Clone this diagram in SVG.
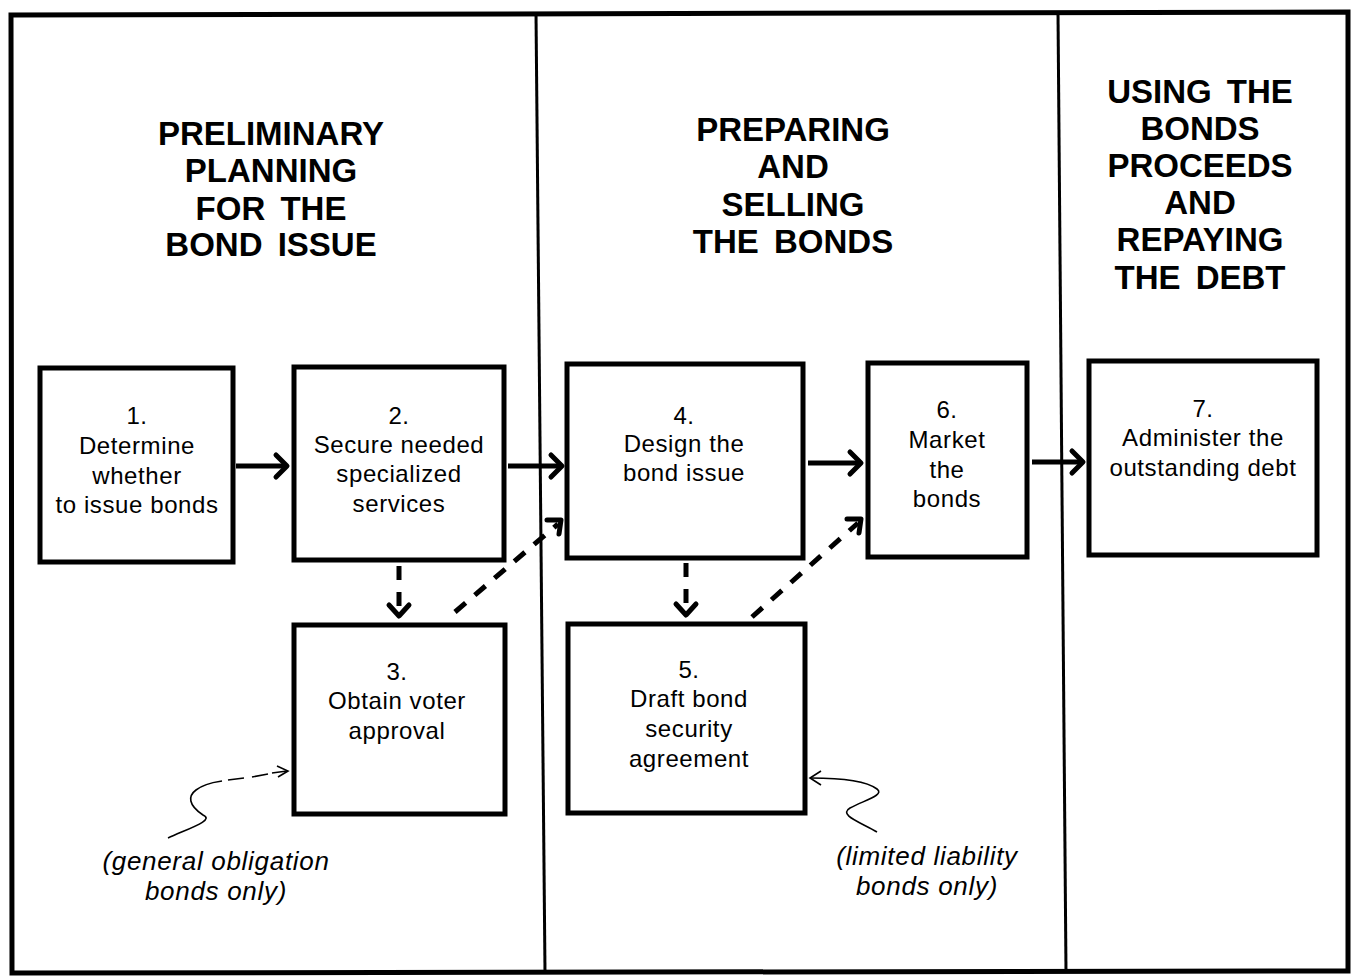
<svg xmlns="http://www.w3.org/2000/svg" width="1354" height="977" viewBox="0 0 1354 977">
<style>
.box{fill:#fff;stroke:#000;stroke-width:5}
.hd{font-family:"Liberation Sans",Arial,sans-serif;font-weight:bold;font-size:33px;text-anchor:middle;fill:#000;word-spacing:6px}
.tx{font-family:"Liberation Sans",Arial,sans-serif;font-size:24px;letter-spacing:0.6px;text-anchor:middle;fill:#000}
.it{font-family:"Liberation Sans",Arial,sans-serif;font-style:italic;font-size:26px;letter-spacing:0.7px;text-anchor:middle;fill:#000}
.ln{fill:none;stroke:#000;stroke-width:5}
.dl{fill:none;stroke:#000;stroke-width:5;stroke-dasharray:14 12}
.hd2{fill:none;stroke:#000;stroke-width:5;stroke-linecap:round;stroke-linejoin:round}
.thin{fill:none;stroke:#000;stroke-width:1.6}
</style>
<rect width="1354" height="977" fill="#fff"/>
<g id="frame">
<path d="M11 15 L1348 12 L1348 971 L12 973 Z" fill="none" stroke="#000" stroke-width="5"/>
<line x1="536" y1="13" x2="545" y2="972" stroke="#000" stroke-width="3"/>
<line x1="1058" y1="13" x2="1066" y2="972" stroke="#000" stroke-width="3"/>
</g>
<g id="headers">
<text class="hd"><tspan x="271" y="145">PRELIMINARY</tspan><tspan x="271" y="182">PLANNING</tspan><tspan x="271" y="220">FOR THE</tspan><tspan x="271" y="256">BOND ISSUE</tspan></text>
<text class="hd"><tspan x="793" y="141">PREPARING</tspan><tspan x="793" y="178">AND</tspan><tspan x="793" y="216">SELLING</tspan><tspan x="793" y="253">THE BONDS</tspan></text>
<text class="hd"><tspan x="1200" y="103">USING THE</tspan><tspan x="1200" y="140">BONDS</tspan><tspan x="1200" y="177">PROCEEDS</tspan><tspan x="1200" y="214">AND</tspan><tspan x="1200" y="251">REPAYING</tspan><tspan x="1200" y="289">THE DEBT</tspan></text>
</g>
<g id="connectors">
<line class="ln" x1="236" y1="466" x2="286" y2="466"/><path class="hd2" d="M276 455 L287 466 L276 477"/>
<line class="ln" x1="508" y1="466" x2="561" y2="466"/><path class="hd2" d="M551 455 L562 466 L551 477"/>
<line class="ln" x1="808" y1="463" x2="860" y2="463"/><path class="hd2" d="M850 452 L861 463 L850 474"/>
<line class="ln" x1="1032" y1="462" x2="1082" y2="462"/><path class="hd2" d="M1072 451 L1083 462 L1072 473"/>
<line class="dl" x1="399" y1="566" x2="399" y2="612"/><path class="hd2" d="M389 605 L399 616 L409 605"/>
<line class="dl" x1="686" y1="563" x2="686" y2="610"/><path class="hd2" d="M676 604 L686 615 L696 604"/>
<line class="dl" x1="455" y1="612" x2="558" y2="524"/><path class="hd2" d="M547 520 L561 520 L559 534"/>
<line class="dl" x1="752" y1="617" x2="858" y2="523"/><path class="hd2" d="M847 519 L861 519 L859 533"/>
<path class="thin" d="M168 838 C190 828 215 820 203 815 C188 805 188 796 196 790 C205 783 215 782 222 781" />
<path class="thin" d="M228 780 L244 778 M252 777 L268 774 M272 773 L287 771"/>
<path class="thin" d="M277 766 L288 771 L278 777"/>
<path class="thin" d="M877 832 C860 822 838 815 850 808 C865 800 885 795 877 789 C865 780 835 778 811 778"/>
<path class="thin" d="M821 771 L810 778 L821 785"/>
</g>
<g id="n1"><rect class="box" x="40" y="368" width="193" height="194"/><text class="tx"><tspan x="137" y="424">1.</tspan><tspan x="137" y="454">Determine</tspan><tspan x="137" y="484">whether</tspan><tspan x="137" y="513">to issue bonds</tspan></text></g>
<g id="n2"><rect class="box" x="294" y="367" width="210" height="193"/><text class="tx"><tspan x="399" y="424">2.</tspan><tspan x="399" y="453">Secure needed</tspan><tspan x="399" y="482">specialized</tspan><tspan x="399" y="512">services</tspan></text></g>
<g id="n3"><rect class="box" x="294" y="625" width="211" height="189"/><text class="tx"><tspan x="397" y="680">3.</tspan><tspan x="397" y="709">Obtain voter</tspan><tspan x="397" y="739">approval</tspan></text></g>
<g id="n4"><rect class="box" x="567" y="364" width="236" height="194"/><text class="tx"><tspan x="684" y="424">4.</tspan><tspan x="684" y="452">Design the</tspan><tspan x="684" y="481">bond issue</tspan></text></g>
<g id="n5"><rect class="box" x="568" y="624" width="237" height="189"/><text class="tx"><tspan x="689" y="678">5.</tspan><tspan x="689" y="707">Draft bond</tspan><tspan x="689" y="737">security</tspan><tspan x="689" y="767">agreement</tspan></text></g>
<g id="n6"><rect class="box" x="868" y="363" width="159" height="194"/><text class="tx"><tspan x="947" y="418">6.</tspan><tspan x="947" y="448">Market</tspan><tspan x="947" y="478">the</tspan><tspan x="947" y="507">bonds</tspan></text></g>
<g id="n7"><rect class="box" x="1089" y="361" width="228" height="194"/><text class="tx"><tspan x="1203" y="417">7.</tspan><tspan x="1203" y="446">Administer the</tspan><tspan x="1203" y="476">outstanding debt</tspan></text></g>
<g id="notes">
<text class="it"><tspan x="216" y="870">(general obligation</tspan><tspan x="216" y="900">bonds only)</tspan></text>
<text class="it"><tspan x="927" y="865">(limited liability</tspan><tspan x="927" y="895">bonds only)</tspan></text>
</g>
</svg>
